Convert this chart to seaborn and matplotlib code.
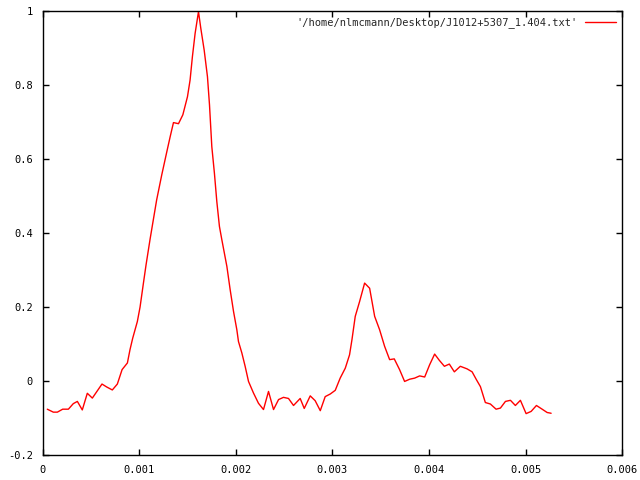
#!/usr/bin/env python3
"""
Recreate gnuplot-style pulse profile plot.
"""

import matplotlib
matplotlib.use("Agg")
import matplotlib.pyplot as plt
from matplotlib.ticker import FuncFormatter
import seaborn as sns

label = "'/home/nlmcmann/Desktop/J1012+5307_1.404.txt'"

phase = [
    0.0000477, 0.00011, 0.000152, 0.000207, 0.000266, 0.000317, 0.000359, 0.00041,
    0.000462, 0.000514, 0.000614, 0.000663, 0.000721, 0.000773, 0.000822, 0.000877,
    0.000904, 0.000932, 0.00098, 0.001008, 0.001043, 0.00107, 0.001112, 0.00118,
    0.001233, 0.001285, 0.00132, 0.001354, 0.001406, 0.001451, 0.001499, 0.001526,
    0.00155, 0.001578, 0.001613, 0.001637, 0.001672, 0.001706, 0.001727, 0.001751,
    0.001778, 0.001803, 0.00183, 0.001855, 0.001907, 0.001941, 0.001976, 0.00201,
    0.002027, 0.002062, 0.002096, 0.002131, 0.002182, 0.002234, 0.002286, 0.002338,
    0.00239, 0.002442, 0.002493, 0.002545, 0.002597, 0.002666, 0.002708, 0.00277,
    0.002821, 0.002874, 0.002925, 0.002977, 0.003029, 0.00308, 0.003133, 0.003177,
    0.003202, 0.003236, 0.003281, 0.003333, 0.003385, 0.003437, 0.003488, 0.00354,
    0.003592, 0.00364, 0.003695, 0.003747, 0.003799, 0.003851, 0.003903, 0.003955,
    0.004006, 0.004058, 0.004107, 0.004159, 0.00421, 0.004262, 0.004324, 0.004394,
    0.004446, 0.00449, 0.004532, 0.004583, 0.004635, 0.004694, 0.004739, 0.004791,
    0.004843, 0.004894, 0.004946, 0.005005, 0.005057, 0.005112, 0.005171, 0.005223,
    0.005264,
]

flux = [
    -0.076, -0.084, -0.084, -0.076, -0.076, -0.061, -0.055, -0.078,
    -0.033, -0.046, -0.008, -0.016, -0.024, -0.008, 0.031, 0.049,
    0.085, 0.116, 0.161, 0.200, 0.265, 0.314, 0.384, 0.490,
    0.558, 0.620, 0.661, 0.699, 0.696, 0.720, 0.769, 0.814,
    0.877, 0.940, 0.999, 0.954, 0.895, 0.823, 0.747, 0.634,
    0.562, 0.485, 0.418, 0.382, 0.310, 0.247, 0.188, 0.139,
    0.107, 0.076, 0.040, -0.001, -0.032, -0.060, -0.077, -0.028,
    -0.077, -0.050, -0.044, -0.047, -0.066, -0.047, -0.074, -0.040,
    -0.053, -0.080, -0.042, -0.035, -0.025, 0.008, 0.035, 0.071,
    0.112, 0.175, 0.215, 0.265, 0.251, 0.175, 0.139, 0.094,
    0.058, 0.060, 0.031, -0.001, 0.005, 0.008, 0.014, 0.011,
    0.044, 0.073, 0.056, 0.040, 0.046, 0.025, 0.040, 0.033,
    0.025, 0.004, -0.015, -0.058, -0.062, -0.076, -0.073, -0.055,
    -0.052, -0.066, -0.052, -0.088, -0.082, -0.066, -0.076, -0.085,
    -0.087,
]

x_ticks = [0, 0.001, 0.002, 0.003, 0.004, 0.005, 0.006]
y_ticks = [-0.2, 0, 0.2, 0.4, 0.6, 0.8, 1]


def gfmt(v, pos):
    return f"{v:g}"


def main() -> int:
    sns.set_style("ticks")
    plt.rcParams["font.family"] = ["DejaVu Sans Mono"]

    fig = plt.figure(figsize=(6.4, 4.8), dpi=100)
    ax = fig.add_axes([0.0667, 0.052, 0.9055, 0.9245])

    sns.lineplot(x=phase, y=flux, color="red", linewidth=1.0, sort=False,
                 label=label, ax=ax)

    ax.set_xlim(0, 0.006)
    ax.set_ylim(-0.2, 1)
    ax.set_xticks(x_ticks)
    ax.set_yticks(y_ticks)
    ax.xaxis.set_major_formatter(FuncFormatter(gfmt))
    ax.yaxis.set_major_formatter(FuncFormatter(gfmt))
    ax.tick_params(direction="in", length=4, width=1, top=True, right=True,
                   labelsize=7.5, colors="black", pad=7)
    for s in ax.spines.values():
        s.set_visible(True)
        s.set_color("black")
        s.set_linewidth(1)

    ax.legend(loc="upper right", frameon=False, markerfirst=False,
              fontsize=7.5, handlelength=3.0, borderaxespad=0.2,
              handletextpad=0.7)

    fig.savefig("out.png", dpi=100)
    return 0


if __name__ == "__main__":
    raise SystemExit(main())
